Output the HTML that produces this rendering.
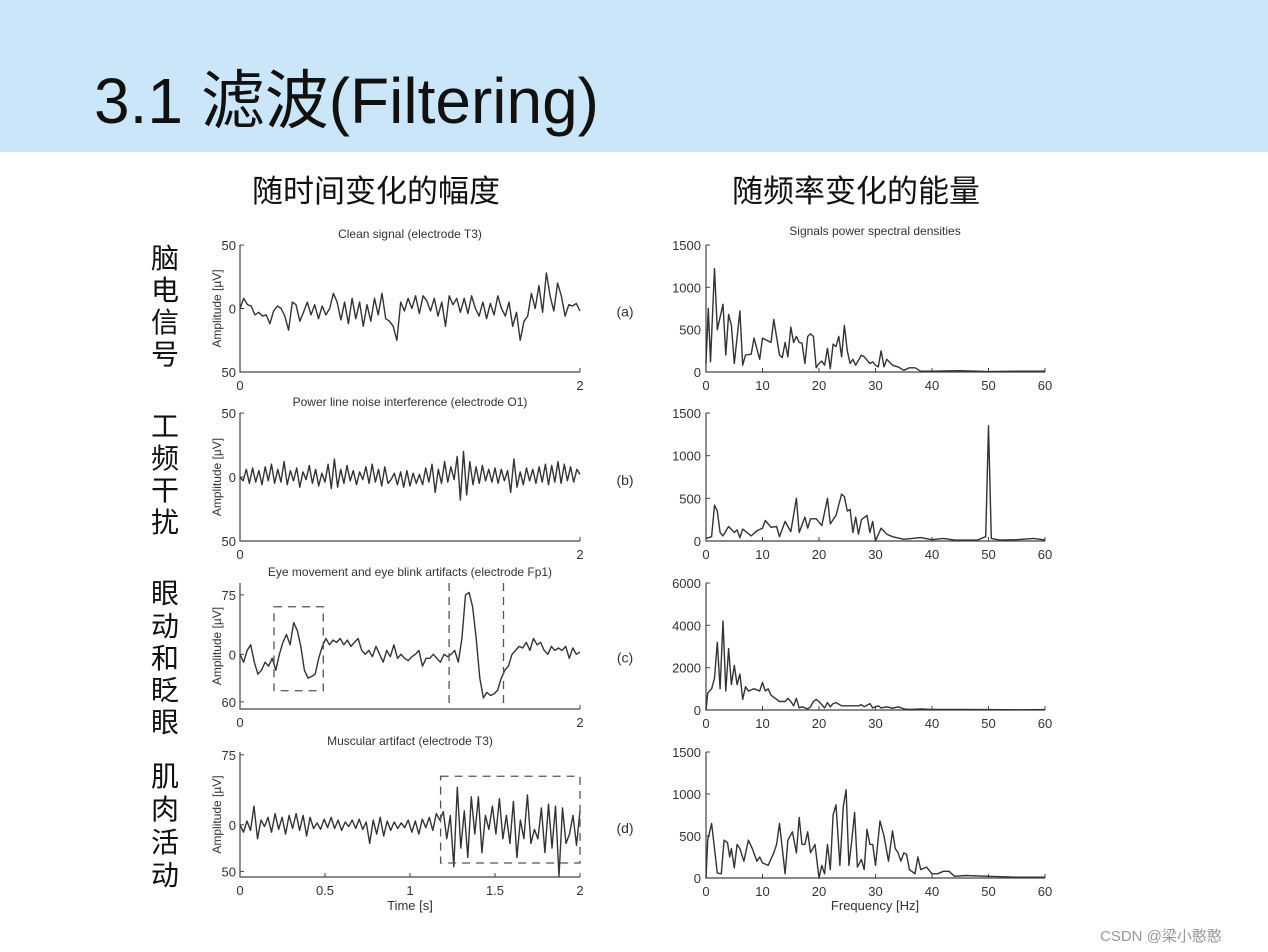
<!DOCTYPE html>
<html><head><meta charset="utf-8"><style>
html,body{margin:0;padding:0;background:#fff;}
svg{display:block;font-family:"Liberation Sans","Noto Sans CJK SC",sans-serif;}
</style></head><body>
<svg id="s" width="1268" height="952" viewBox="0 0 1268 952">
<rect x="0" y="0" width="1268" height="152" fill="#cce6f9"/>
<text x="94" y="123" font-size="64" fill="#111">3.1 滤波(Filtering)</text>
<text x="376" y="202" font-size="31" text-anchor="middle" fill="#111">随时间变化的幅度</text>
<text x="856" y="202" font-size="31" text-anchor="middle" fill="#111">随频率变化的能量</text>
<g font-size="28" text-anchor="middle" fill="#111">
<text x="165" y="268">脑</text><text x="165" y="300">电</text><text x="165" y="332">信</text><text x="165" y="364">号</text>
<text x="165" y="436">工</text><text x="165" y="468">频</text><text x="165" y="500">干</text><text x="165" y="532">扰</text>
<text x="165" y="603">眼</text><text x="165" y="636">动</text><text x="165" y="668">和</text><text x="165" y="700">眨</text><text x="165" y="732">眼</text>
<text x="165" y="786">肌</text><text x="165" y="819">肉</text><text x="165" y="852">活</text><text x="165" y="885">动</text>
</g>
<text x="1100" y="941" font-size="15" fill="#999">CSDN @梁小憨憨</text>
</svg>
<script>
const sigA=[0,8,3,2,-5,-3,-6,-5,-12,-2,2,0,-6,-17,5,3,-10,-3,5,-5,3,-8,2,-5,0,12,5,-9,5,-12,8,-8,5,-14,3,-10,8,-5,12,-8,-10,-14,-25,5,-2,8,0,10,-4,10,6,-2,8,-6,5,-14,10,3,8,-3,8,-4,10,0,-6,5,-8,4,-5,10,0,-6,5,-14,-3,-25,-10,-6,12,0,18,-3,28,10,-2,20,10,-6,3,2,4,-2];
const sigB=[0,-3,6,-5,7,-4,5,-6,8,-3,10,-5,6,-4,12,-6,5,-3,7,-8,4,-2,9,-5,6,-7,3,-4,10,-9,14,-8,6,-5,9,-3,5,-6,4,-2,8,-5,10,-4,6,-7,8,-5,-2,3,-6,4,-8,5,-7,3,-5,2,-6,7,-4,10,-12,6,-5,12,-4,8,-2,16,-18,20,-14,12,-6,8,-5,9,-3,6,-4,7,-5,6,-3,5,-12,14,-8,4,-6,7,-3,6,-5,8,-4,10,-6,9,-4,12,-5,10,-3,8,-4,6,2];
const sigC=[0,-10,5,12,-10,-25,-20,-10,-15,-5,-20,0,15,25,12,40,30,10,-20,-30,-28,-25,-5,10,20,12,18,15,20,12,18,10,15,20,5,0,5,-3,10,0,-10,5,-3,12,-5,0,-5,-8,-3,0,5,-15,-5,-5,0,-5,-10,0,-3,0,5,-10,20,75,78,60,20,-30,-55,-48,-52,-50,-45,-30,-20,-15,0,5,10,8,15,5,20,12,15,5,0,10,5,8,5,10,-5,8,0,3];
const sigD=[0,-8,4,-6,20,-15,5,-2,8,-8,12,-5,8,-10,10,-4,12,-6,10,-12,8,-4,2,-5,6,-3,8,-4,5,-6,3,-2,5,-4,6,-5,3,-20,5,-10,8,-12,4,-6,3,-4,2,-3,5,-8,4,-10,6,-3,8,-6,12,5,14,-15,10,-45,40,-25,15,-35,30,-10,30,-30,10,-5,20,-10,28,-15,10,-20,25,-35,5,-15,32,-20,-5,-15,18,-30,22,-25,20,-55,18,-20,-10,10,-22,15];
const fA=[0,0.4,0.8,1.5,2,3,3.5,4,4.5,5,6,6.5,7,8,8.5,9.5,10,11.5,12,13,13.5,14,14.5,15,15.5,16,16.5,17,17.5,18,18.5,19,19.5,20,20.5,21,21.5,22,22.5,23,23.5,24,24.5,25,25.5,26,26.5,27.5,28,29,29.5,30,30.5,31,31.5,32,33,34,35,36,37,38,40,45,50,55,60];
const pA=[100,750,120,1220,500,800,200,680,550,100,720,80,200,210,400,150,400,350,620,200,170,350,180,530,350,420,350,340,100,420,450,420,50,100,130,80,280,40,330,300,420,180,550,250,100,150,80,200,180,100,120,80,60,250,60,150,80,60,20,50,50,10,10,15,5,10,10];
const fB=[0,1,1.5,2,2.5,3,4,5,5.5,6,6.5,8,9,10,10.5,11.5,12.5,13,14,15,16,16.5,17.5,18,18.5,19.5,20.5,21.5,22,23,24,24.5,25,25.5,26,26.5,27,27.5,28.5,29,29.5,30,31,32,33,35,38,40,42,44,48,49.5,50,50.5,52,55,58,60];
const pB=[30,50,420,350,100,60,170,100,130,40,140,60,120,150,240,160,170,50,230,110,500,100,280,150,260,260,180,500,200,300,550,520,350,370,100,280,80,250,300,100,230,0,150,80,50,20,40,15,30,10,10,50,1350,30,10,15,30,10];
const fC=[0,0.3,1,1.5,2,2.5,3,3.5,4,4.5,5,5.5,6,6.5,7,7.5,8.5,9.5,10,10.5,11,11.5,12,13,14,14.5,15,15.5,16,16.5,17,18,18.5,19,19.5,20,21,21.5,22,22.5,23,24,25,27,27.5,28,29,29.5,30.5,31,32,33,34,35,36,38,40,45,50,55,60];
const pC=[0,800,1000,1500,3200,1000,4200,900,2900,1200,2100,1200,1700,500,1100,900,1000,900,1300,900,1000,700,600,400,400,550,400,200,550,100,150,50,150,400,500,400,100,350,150,300,350,200,200,200,250,150,300,100,200,100,150,80,150,50,30,50,30,30,20,10,20];
const fD=[0,0.3,1,1.5,2,2.7,3.2,3.8,4.2,4.5,5,5.5,6,6.7,7.5,8.2,9,9.5,10,11,12,12.5,13,13.5,14,14.5,15.3,16,16.5,17,17.5,18,18.5,19.3,20,20.5,21,21.5,22,22.5,23,23.7,24.3,24.8,25.3,25.8,26.3,26.8,27.5,28,28.5,29,29.5,30,30.8,31.5,32.3,33,33.5,34,34.5,35,35.5,36,37,37.5,38,39,40,41,42,43,44,46,50,55,60];
const pD=[0,450,650,350,60,50,450,420,250,350,120,400,350,200,450,350,200,250,180,150,300,400,650,350,50,450,550,300,720,400,400,550,300,400,0,150,50,400,100,750,870,150,850,1050,150,450,780,130,220,100,580,400,400,150,680,500,200,560,350,300,200,300,280,100,50,250,100,130,50,50,80,80,20,30,20,10,10];
const ticksFreq=["0","10","20","30","40","50","60"];

const NS="http://www.w3.org/2000/svg";
const svg=document.getElementById('s');
function el(tag,attrs,parent){const e=document.createElementNS(NS,tag);for(const k in attrs)e.setAttribute(k,attrs[k]);(parent||svg).appendChild(e);return e;}
function txt(x,y,s,size,anchor,parent){const t=el('text',{x:x,y:y,'font-size':size,'text-anchor':anchor,fill:'#333'},parent);t.textContent=s;return t;}

function timePanel(name,data,g0){
  const g=el('g',{});
  
  
  const X=t=>g0.x0+(t/2)*(g0.x1-g0.x0);
  const Y=v=>g0.yTop+(g0.vTop-v)/(g0.vTop-g0.vBot)*(g0.yBot-g0.yTop);
  el('path',{d:`M${g0.x0},${g0.yTop} V${g0.yBot} H${g0.x1}`,fill:'none',stroke:'#444','stroke-width':1.2},g);
  g0.yt.forEach(([v,l])=>{el('line',{x1:g0.x0,x2:g0.x0+4,y1:Y(v),y2:Y(v),stroke:'#444'},g);txt(g0.x0-4,Y(v)+5,l,13,'end',g);});
  g0.xt.forEach(([v,l])=>{el('line',{x1:X(v),x2:X(v),y1:g0.yBot,y2:g0.yBot-4,stroke:'#444'},g);txt(X(v),g0.yBot+18,l,13,'middle',g);});
  const n=data.length;
  const d=data.map((v,i)=>(i?'L':'M')+X(i*2/(n-1)).toFixed(1)+','+Y(v).toFixed(1)).join(' ');
  const p=el('path',{d:d,fill:'none',stroke:'#333','stroke-width':1.4,'stroke-linejoin':'round'},g);
  
  
  txt((g0.x0+g0.x1)/2,g0.yTop-7,g0.title,12,'middle',g);
  const mid=(g0.yTop+g0.yBot)/2;
  const yl=txt(0,0,'Amplitude [µV]',12,'middle',g);
  yl.setAttribute('transform',`translate(221,${mid}) rotate(-90)`);
  txt(625,Y(0)+8,g0.tag,14,'middle',g);
  (g0.boxes||[]).forEach(b=>{el('rect',{x:X(b[0]),y:Y(b[2]),width:X(b[1])-X(b[0]),height:Y(b[3])-Y(b[2]),fill:'none',stroke:'#555','stroke-width':1.3,'stroke-dasharray':'8,6'},g);});
  (g0.vlines||[]).forEach(t=>{el('line',{x1:X(t),x2:X(t),y1:g0.yTop,y2:g0.yBot,stroke:'#555','stroke-width':1.3,'stroke-dasharray':'8,6'},g);});
  return g;
}
function freqPanel(name,fs,ps,g0){
  const g=el('g',{});
  
  
  const X=f=>706+f/60*(1045-706);
  const Y=v=>g0.yBot-v/g0.vMax*(g0.yBot-g0.yTop);
  el('path',{d:`M706,${g0.yTop} V${g0.yBot} H1045`,fill:'none',stroke:'#444','stroke-width':1.2},g);
  g0.yt.forEach(v=>{el('line',{x1:706,x2:710,y1:Y(v),y2:Y(v),stroke:'#444'},g);txt(701,Y(v)+5,String(v),13,'end',g);});
  ticksFreq.forEach(l=>{const f=+l;el('line',{x1:X(f),x2:X(f),y1:g0.yBot,y2:g0.yBot-4,stroke:'#444'},g);txt(X(f),g0.yBot+18,l,13,'middle',g);});
  const d=fs.map((f,i)=>(i?'L':'M')+X(f).toFixed(1)+','+Y(ps[i]).toFixed(1)).join(' ');
  const p=el('path',{d:d,fill:'none',stroke:'#333','stroke-width':1.4,'stroke-linejoin':'round'},g);
  
  
  if(g0.title) txt(875,g0.yTop-10,g0.title,12,'middle',g);
  return g;
}
const x2=[[0,'0'],[2,'2']];
timePanel('clean-signal-chart',sigA,{x0:240,x1:580,yTop:245,yBot:372,vTop:50,vBot:-50,yt:[[50,'50'],[0,'0'],[-50,'50']],xt:x2,title:'Clean signal (electrode T3)',tag:'(a)'});
timePanel('power-line-chart',sigB,{x0:240,x1:580,yTop:413,yBot:541,vTop:50,vBot:-50,yt:[[50,'50'],[0,'0'],[-50,'50']],xt:x2,title:'Power line noise interference (electrode O1)',tag:'(b)'});
timePanel('eye-artifact-chart',sigC,{x0:240,x1:580,yTop:583,yBot:709,vTop:90,vBot:-69,yt:[[75,'75'],[0,'0'],[-60,'60']],xt:x2,title:'Eye movement and eye blink artifacts (electrode Fp1)',tag:'(c)',boxes:[[0.2,0.49,60,-46]],vlines:[1.23,1.55]});
timePanel('muscular-artifact-chart',sigD,{x0:240,x1:580,yTop:752,yBot:877,vTop:78,vBot:-56,yt:[[75,'75'],[0,'0'],[-50,'50']],xt:[[0,'0'],[0.5,'0.5'],[1,'1'],[1.5,'1.5'],[2,'2']],title:'Muscular artifact (electrode T3)',tag:'(d)',boxes:[[1.18,2.0,52,-41]]});
freqPanel('psd-clean-chart',fA,pA,{yTop:245,yBot:372,vMax:1500,yt:[0,500,1000,1500],title:'Signals power spectral densities'});
freqPanel('psd-powerline-chart',fB,pB,{yTop:413,yBot:541,vMax:1500,yt:[0,500,1000,1500]});
freqPanel('psd-eye-chart',fC,pC,{yTop:583,yBot:710,vMax:6000,yt:[0,2000,4000,6000]});
freqPanel('psd-muscular-chart',fD,pD,{yTop:752,yBot:878,vMax:1500,yt:[0,500,1000,1500]});
const xt1=txt(410,910,'Time [s]',13,'middle');


const xt2=txt(875,910,'Frequency [Hz]',13,'middle');


</script>
</body></html>
